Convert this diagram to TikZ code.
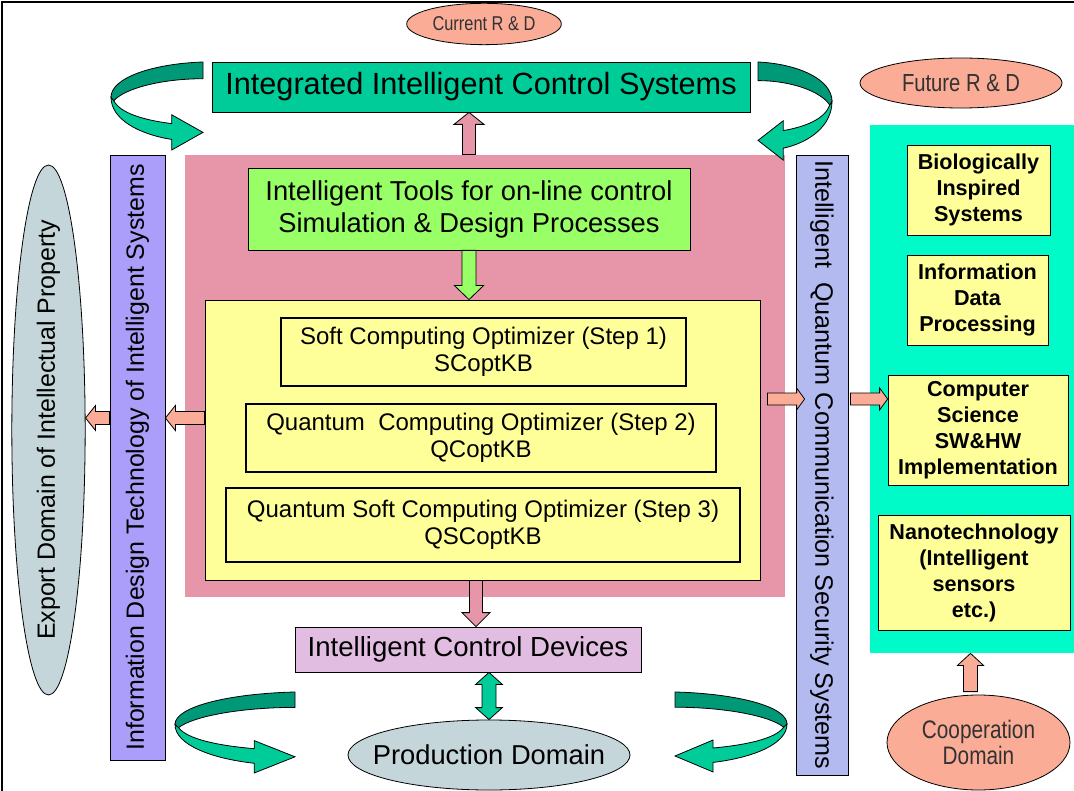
\documentclass[tikz,border=0pt]{standalone}
\usepackage{fontspec}
\setmainfont{Liberation Sans}
\newfontfamily\narrowfont{Liberation Sans}[FakeStretch=0.82]
\usetikzlibrary{calc,shapes.geometric}
\definecolor{salmonF}{RGB}{250,172,150}
\definecolor{tealL}{RGB}{0,204,153}
\definecolor{tealD}{RGB}{0,153,120}
\definecolor{pinkB}{RGB}{230,150,168}
\definecolor{lgreen}{RGB}{153,255,102}
\definecolor{yel}{RGB}{255,255,153}
\definecolor{lav}{RGB}{225,190,225}
\definecolor{greyblue}{RGB}{197,214,218}
\definecolor{purpB}{RGB}{170,158,250}
\definecolor{blueB}{RGB}{178,186,240}
\definecolor{cyanB}{RGB}{0,250,200}
\definecolor{txtgrey}{RGB}{50,50,50}

\newcommand\barrow[6]{%
  \coordinate (hb) at ($(#2)!#5!(#1)$);
  \filldraw[blockarrow,fill=#6] ($(#1)!#3!90:(#2)$) -- ($(hb)!#3!90:(#2)$) -- ($(hb)!#4!90:(#2)$) -- (#2)
    -- ($(hb)!#4!-90:(#2)$) -- ($(hb)!#3!-90:(#2)$) -- ($(#1)!#3!-90:(#2)$) -- cycle;}
\newcommand\dbarrow[6]{%
  \coordinate (hb1) at ($(#1)!#5!(#2)$);
  \coordinate (hb2) at ($(#2)!#5!(#1)$);
  \filldraw[blockarrow,fill=#6] (#1) -- ($(hb1)!#4!90:(#2)$) -- ($(hb1)!#3!90:(#2)$) -- ($(hb2)!#3!90:(#2)$) -- ($(hb2)!#4!90:(#2)$) -- (#2)
    -- ($(hb2)!#4!-90:(#2)$) -- ($(hb2)!#3!-90:(#2)$) -- ($(hb1)!#3!-90:(#2)$) -- ($(hb1)!#4!-90:(#2)$) -- cycle;}
\newcommand\curlarrow[4]{%
  \begin{scope}[shift={(#1,#2)},xscale=#3,yscale=#4]
    \filldraw[curlL] (0,0.40) .. controls (0,0.65) and (0.3,0.82) .. (0.66,0.88) -- (0.66,1) -- (1,0.80) -- (0.66,0.60) -- (0.66,0.70) .. controls (0.35,0.66) and (0.1,0.58) .. (0.03,0.44) -- cycle;
    \filldraw[curlD] (1,0) .. controls (0.45,0.02) and (0,0.18) .. (0,0.40) -- (0.03,0.44) .. controls (0.15,0.30) and (0.55,0.19) .. (1,0.19) -- cycle;
  \end{scope}}

\begin{document}
\begin{tikzpicture}[x=0.75pt,y=-0.75pt,
  box/.style={draw=black,line width=0.6pt,inner sep=0pt,align=center},
  optbox/.style={draw=black,line width=2.2pt,fill=yel,inner sep=0pt,align=center,font=\fontsize{18}{20.5}\selectfont},
  colbox/.style={draw=black,line width=0.6pt,fill=yel,inner sep=0pt,align=center,font=\fontsize{16.2}{19.5}\selectfont\bfseries},
  oval/.style={ellipse,draw=black,line width=0.6pt,inner sep=0pt,align=center},
  blockarrow/.style={draw=black,line width=0.6pt},
  curlL/.style={fill=tealL,draw=black,line width=0.6pt},
  curlD/.style={fill=tealD,draw=black,line width=0.6pt}]
\useasboundingbox (0,0) rectangle (1074,791);
\fill[white] (0,0) rectangle (1074,791);
\draw[line width=2pt] (2,791) -- (2,2) -- (1074,2);

% background regions
\node[box,draw=none,fill=cyanB,minimum width=153pt,minimum height=396pt] (cyan) at (972,389) {};
\node[box,draw=none,fill=pinkB,minimum width=450pt,minimum height=331.5pt] (pink) at (485,376) {};

% ellipses
\node[oval,fill=salmonF,minimum width=116pt,minimum height=31pt,font=\narrowfont\fontsize{15}{18}\selectfont,text=txtgrey] (cur) at (484,24) {\makebox[0pt]{Current R \& D}};
\node[oval,fill=salmonF,minimum width=151.5pt,minimum height=37.5pt,font=\narrowfont\fontsize{18.5}{21}\selectfont,text=txtgrey] (fut) at (961,83) {\makebox[0pt]{Future R \& D}};
\node[oval,fill=salmonF,minimum width=137.25pt,minimum height=71.25pt,font=\narrowfont\fontsize{19}{20}\selectfont,text=txtgrey] (coop) at (978.5,742.5) {Cooperation\\Domain};
\node[oval,fill=greyblue,minimum width=211.5pt,minimum height=52.5pt,font=\fontsize{20.5}{22}\selectfont] (prod) at (489,755) {\makebox[0pt]{Production Domain}};
\node[oval,fill=greyblue,minimum width=397.5pt,minimum height=55pt,rotate=90,font=\fontsize{18.7}{20}\selectfont] (exp) at (48.5,430) {\makebox[0pt]{Export Domain of Intellectual Property}};

% main boxes
\node[box,fill=tealL,minimum width=403.5pt,minimum height=37.5pt,font=\fontsize{23}{26}\selectfont] (ics) at (481,87) {Integrated Intelligent Control Systems};
\node[box,fill=lgreen,minimum width=331.5pt,minimum height=61.5pt,font=\fontsize{20.5}{24}\selectfont] (tools) at (469,209) {Intelligent Tools for on-line control\\Simulation \& Design Processes};
\node[box,fill=yel,minimum width=416.25pt,minimum height=210pt] (yel) at (482.5,440) {};
\node[optbox,minimum width=303.75pt,minimum height=51pt] (o1) at (483.5,352) {Soft Computing Optimizer (Step 1)\\SCoptKB};
\node[optbox,minimum width=352.5pt,minimum height=51pt] (o2) at (481,438) {Quantum\ \ Computing Optimizer (Step 2)\\QCoptKB};
\node[optbox,minimum width=385.5pt,minimum height=55.5pt] (o3) at (483,525) {Quantum Soft Computing Optimizer (Step 3)\\QSCoptKB};
\node[box,fill=lav,minimum width=259.5pt,minimum height=33.75pt,font=\fontsize{20.7}{22}\selectfont] (icd) at (468,649.5) {Intelligent Control Devices};

% vertical boxes
\node[box,fill=purpB,minimum width=453.75pt,minimum height=41.25pt,rotate=90,font=\fontsize{18.7}{20}\selectfont] (lv) at (137.5,457.5) {Information Design Technology of Intelligent Systems};
\node[box,fill=blueB,minimum width=465pt,minimum height=39pt,rotate=-90,font=\fontsize{18.9}{20}\selectfont] (rv) at (822,465) {Intelligent\ \ Quantum Communication Security Systems};

% right column
\node[colbox,minimum width=107.25pt,minimum height=67.5pt] (b1) at (978.5,190) {Biologically\\Inspired\\Systems};
\node[colbox,minimum width=105.75pt,minimum height=67.5pt] (b2) at (977.5,300) {Information\\Data\\Processing};
\node[colbox,minimum width=135pt,minimum height=82.5pt] (b3) at (978,430) {Computer\\Science\\SW\&HW\\Implementation};
\node[colbox,minimum width=144pt,minimum height=86.25pt] (b4) at (974,572.5) {Nanotechnology\\(Intelligent\\sensors\\etc.)};

% block arrows
\coordinate (a1s) at (tools.north |- pink.north);
\coordinate (a1e) at (tools.north |- ics.south);
\barrow{a1s}{a1e}{4.9pt}{11.25pt}{9pt}{pinkB}
\coordinate (a2e) at (tools.south |- yel.north);
\barrow{tools.south}{a2e}{5.25pt}{10.9pt}{10.5pt}{lgreen}
\coordinate (a3s) at ($(yel.south)+(-6.5,0)$);
\coordinate (a3e) at (a3s |- icd.north);
\barrow{a3s}{a3e}{4.9pt}{10.5pt}{10.5pt}{pinkB}
\coordinate (a4s) at (prod.north |- icd.south);
\dbarrow{a4s}{prod.north}{5.25pt}{10pt}{9pt}{tealL}
\coordinate (l1s) at ($(yel.west)+(0,-22)$);
\coordinate (l1e) at (lv.south |- l1s);
\barrow{l1s}{l1e}{4.9pt}{9.4pt}{7.5pt}{salmonF}
\coordinate (l2s) at (lv.north |- l1s);
\coordinate (l2e) at (exp.south |- l1s);
\barrow{l2s}{l2e}{4.9pt}{9.4pt}{7.5pt}{salmonF}
\coordinate (r1s) at ($(yel.east)+(7,-41)$);
\coordinate (r1e) at ($(rv.south |- r1s)+(9,0)$);
\barrow{r1s}{r1e}{4.5pt}{8.25pt}{6pt}{salmonF}
\coordinate (r2s) at ($(rv.north |- r1s)+(2,0)$);
\coordinate (r2e) at (b3.west |- r1s);
\barrow{r2s}{r2e}{4.5pt}{8.25pt}{6pt}{salmonF}
\coordinate (c1s) at ($(coop.north)+(-8,-3)$);
\coordinate (c1e) at (c1s |- cyan.south);
\barrow{c1s}{c1e}{5.25pt}{9.75pt}{9pt}{salmonF}

% curved arrows
\curlarrow{111}{62}{92}{88}
\curlarrow{832}{62}{-74}{98}
\curlarrow{175}{692}{120}{81}
\curlarrow{787}{692}{-112}{80}
\end{tikzpicture}
\end{document}
